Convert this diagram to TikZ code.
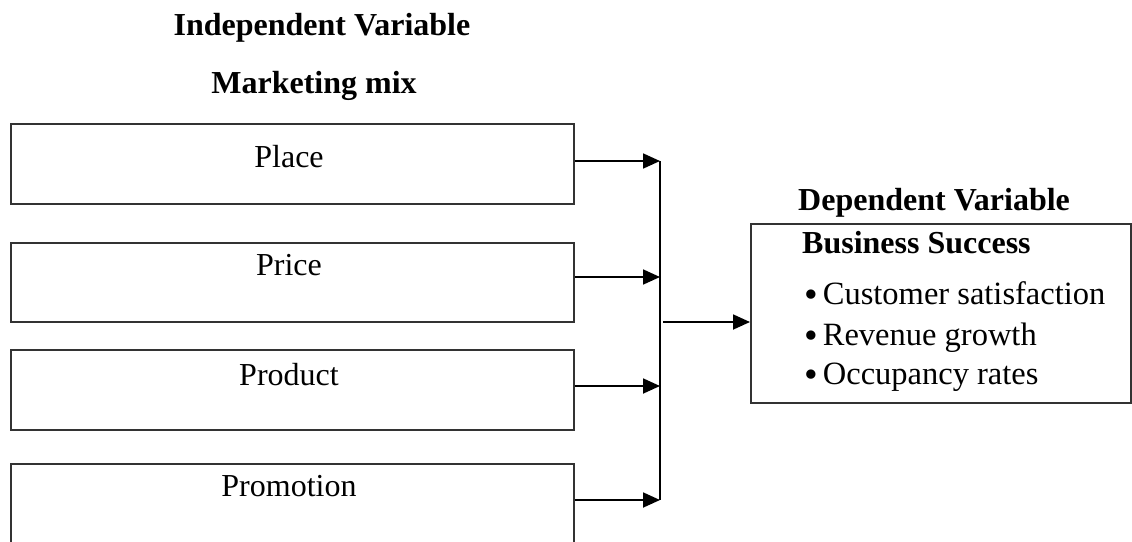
\documentclass[tikz,border=0pt]{standalone}
\usepackage{fontspec}
\setmainfont{Liberation Serif}
\usetikzlibrary{arrows.meta}
\tikzset{
  boxline/.style={draw=black!80, line width=1.8pt},
  inbox/.style={boxline, rectangle, inner sep=0pt, anchor=north west},
  lbl/.style={inner sep=0pt, font=\fontsize{32}{38}\selectfont},
  title/.style={lbl, font=\fontsize{32}{38}\selectfont\bfseries},
  arr/.style={draw=black, line width=1.8pt, -{Triangle[length=17pt,width=15pt]}},
  conn/.style={draw=black, line width=1.8pt},
}
\newcommand{\mybul}{\raisebox{-3.5pt}{\scalebox{1.2}{\textbullet}}\hspace{5pt}}
\begin{document}
\begin{tikzpicture}[x=1pt,y=-1pt]
\useasboundingbox (0,0) rectangle (1132,541);
\clip (0,0) rectangle (1132,541);
% titles
\node[title, anchor=base] (indep) at (322,35) {Independent Variable};
\node[title, anchor=base] (mix) at (314,93) {Marketing mix};
\node[title, anchor=base west] (dep) at (798,210) {Dependent Variable};
% left boxes
\node[inbox, minimum width=563pt, minimum height=80pt] (placebox) at (10,123) {};
\node[inbox, minimum width=563pt, minimum height=79pt] (pricebox) at (10,242) {};
\node[inbox, minimum width=563pt, minimum height=80pt] (productbox) at (10,349) {};
\node[inbox, minimum width=563pt, minimum height=110pt] (promobox) at (10,463) {};
\node[lbl, anchor=base] (place) at (289,167) {Place};
\node[lbl, anchor=base] (price) at (289,275) {Price};
\node[lbl, anchor=base] (product) at (289,385) {Product};
\node[lbl, anchor=base] (promo) at (289,496) {Promotion};
% right box
\node[inbox, minimum width=380pt, minimum height=179pt] (succbox) at (750,223) {};
\node[title, anchor=base west] (succ) at (802,253) {Business Success};
\node[lbl, anchor=base west, font=\fontsize{32.5}{38}\selectfont] (b1) at (804,304) {\mybul Customer satisfaction};
\node[lbl, anchor=base west, font=\fontsize{32.5}{38}\selectfont] (b2) at (804,345) {\mybul Revenue growth};
\node[lbl, anchor=base west, font=\fontsize{32.5}{38}\selectfont] (b3) at (804,384) {\mybul Occupancy rates};
% connectors
\coordinate (j1) at (660,161);
\coordinate (j2) at (660,277);
\coordinate (j3) at (660,386);
\coordinate (j4) at (660,500);
\coordinate (jm) at (663,322);
\draw[arr] (placebox.east |- j1) -- (j1);
\draw[arr] (pricebox.east |- j2) -- (j2);
\draw[arr] (productbox.east |- j3) -- (j3);
\draw[arr] (promobox.east |- j4) -- (j4);
\draw[conn] (j1) -- (j4);
\draw[arr] (jm) -- (succbox.west |- jm);
\end{tikzpicture}
\end{document}
